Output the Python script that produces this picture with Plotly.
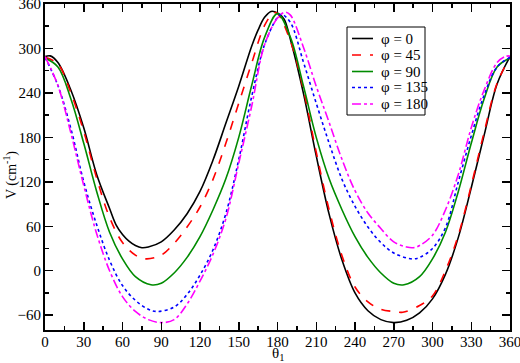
import plotly.graph_objects as go

# --- data ---
th_phi0 = [0, 4, 10, 20, 30, 40, 50, 55, 60, 65, 70, 75, 80, 90, 100, 110, 120, 130, 140, 150, 160, 165, 170, 175, 180, 185, 190, 200, 210, 220, 230, 240, 250, 260, 270, 280, 290, 300, 310, 320, 330, 340, 350, 360]
v_phi0 = [289, 290, 281, 244, 193, 130, 84, 62, 49, 40, 34, 31, 32, 39, 55, 77, 107, 149, 199, 249, 303, 325, 342, 350, 348, 340, 312, 240, 155, 76, 14, -30, -54, -66, -70, -67, -57, -38, -5, 45, 112, 183, 252, 289]

th_phi45 = [0, 10, 20, 30, 40, 50, 60, 70, 78, 90, 100, 110, 120, 130, 140, 150, 160, 170, 177, 180, 190, 200, 210, 220, 230, 240, 250, 260, 270, 277, 290, 300, 310, 320, 330, 340, 350, 360]
v_phi45 = [288, 279, 240, 188, 125, 72, 38, 21, 16, 21, 37, 59, 86, 123, 172, 226, 280, 331, 348, 347, 310, 245, 160, 82, 20, -22, -42, -52, -55, -56, -47, -34, 0, 48, 115, 187, 253, 288]

th_phi90 = [0, 10, 20, 30, 40, 50, 60, 70, 82, 90, 100, 110, 120, 130, 140, 150, 160, 170, 180, 190, 200, 210, 220, 230, 240, 250, 260, 270, 278, 290, 300, 310, 320, 330, 340, 350, 360]
v_phi90 = [287, 275, 232, 172, 107, 52, 16, -8, -19, -17, -3, 18, 46, 82, 124, 180, 250, 315, 347, 315, 250, 180, 124, 82, 46, 18, -3, -17, -19, -8, 16, 52, 107, 172, 232, 275, 287]

th_phi135 = [0, 10, 20, 30, 40, 50, 60, 70, 80, 87, 100, 110, 120, 130, 140, 150, 160, 170, 180, 183, 190, 200, 210, 220, 230, 240, 250, 260, 270, 284, 290, 300, 310, 320, 330, 340, 350, 360]
v_phi135 = [288, 250, 192, 120, 62, 14, -20, -40, -52, -55, -49, -32, -6, 28, 77, 150, 235, 305, 342, 346, 335, 282, 226, 172, 123, 87, 59, 38, 24, 16, 18, 30, 58, 120, 182, 237, 275, 288]

th_phi180 = [0, 10, 20, 30, 40, 50, 60, 70, 80, 90, 100, 110, 120, 130, 140, 150, 160, 170, 180, 186, 190, 200, 210, 220, 230, 240, 250, 260, 270, 280, 285, 290, 300, 310, 320, 330, 340, 350, 356, 360]
v_phi180 = [289, 250, 186, 115, 50, 0, -35, -55, -66, -70, -66, -45, -14, 22, 70, 145, 222, 305, 341, 349, 345, 302, 249, 200, 150, 108, 78, 57, 39, 32, 31, 34, 48, 82, 130, 193, 244, 281, 289, 290]

labels = ["\u03c6 = 0", "\u03c6 = 45", "\u03c6 = 90", "\u03c6 = 135", "\u03c6 = 180"]
x_ticks = list(range(0, 361, 30))
y_ticks = list(range(-60, 361, 60))
x_title = "\u03b8<sub>1</sub>"
y_title = "V (cm<sup>-1</sup>)"

colors = ["#000000", "#ff0000", "#008b00", "#0000ff", "#ff00ff"]
dashes = ["solid", "dash", "solid", "dot", "dashdot"]
thetas = [th_phi0, th_phi45, th_phi90, th_phi135, th_phi180]
values = [v_phi0, v_phi45, v_phi90, v_phi135, v_phi180]

# figure geometry (pixels)
W, H = 520, 363
ML, MR, MT, MB = 45, 10, 4, 33
PW, PH = W - ML - MR, H - MT - MB


def px_x(px):
    return (px - ML) / PW


def px_y(py):
    return (H - MB - py) / PH


fig = go.Figure()
for th, v, name, col, dash in zip(thetas, values, labels, colors, dashes):
    fig.add_trace(go.Scatter(
        x=th, y=v, name=name, mode="lines", showlegend=False, hoverinfo="skip",
        line=dict(color=col, width=1.6, dash=dash, shape="spline", smoothing=1.0),
    ))

font_family = "Liberation Serif, Times New Roman, serif"
axis_common = dict(
    showline=True, linecolor="black", linewidth=2, mirror="ticks",
    ticks="inside", ticklen=8, tickwidth=1.5, tickcolor="black",
    showgrid=False, zeroline=False, ticklabeloverflow="allow", automargin=False,
    showspikes=False,
    tickfont=dict(family=font_family, size=15, color="black"),
)

fig.update_xaxes(
    range=[0, 360], tickvals=x_ticks, ticklabelstandoff=-3,
    minor=dict(ticks="inside", ticklen=4, tickwidth=1.5, tickcolor="black", dtick=15, showgrid=False),
    **axis_common,
)
fig.update_yaxes(
    range=[-80, 360], tickvals=y_ticks, ticklabelstandoff=-1,
    minor=dict(ticks="inside", ticklen=4, tickwidth=1.5, tickcolor="black", dtick=30, tick0=0, showgrid=False),
    **axis_common,
)

fig.add_annotation(
    x=0.5, y=px_y(354), xref="paper", yref="paper", xanchor="center", yanchor="middle",
    text=x_title, showarrow=False, font=dict(family=font_family, size=15, color="black"),
)
fig.add_annotation(
    x=px_x(10), y=px_y(175), xref="paper", yref="paper", xanchor="center", yanchor="middle",
    text=y_title, textangle=-90, showarrow=False, font=dict(family=font_family, size=14, color="black"),
)

# legend box drawn by hand (to match the compact reference legend)
fig.add_shape(
    type="rect", xref="paper", yref="paper",
    x0=px_x(347), x1=px_x(425), y0=px_y(115), y1=px_y(27),
    line=dict(color="black", width=1), fillcolor="white", layer="above",
)
row_y = [38.5, 55, 71.5, 87.5, 104]
for i, (name, col, dash) in enumerate(zip(labels, colors, dashes)):
    fig.add_shape(
        type="line", xref="paper", yref="paper",
        x0=px_x(352), x1=px_x(373), y0=px_y(row_y[i]), y1=px_y(row_y[i]),
        line=dict(color=col, width=1.6, dash=dash), layer="above",
    )
    fig.add_annotation(
        x=px_x(379), y=px_y(row_y[i]), xref="paper", yref="paper",
        xanchor="left", yanchor="middle", text=name, showarrow=False,
        font=dict(family=font_family, size=15, color="black"),
    )

fig.update_layout(
    width=W, height=H,
    margin=dict(l=ML, r=MR, t=MT, b=MB),
    plot_bgcolor="white", paper_bgcolor="white",
    font=dict(family=font_family, color="black"),
    hovermode=False,
)

fig.write_html(
    "out.html",
    config={"displayModeBar": False, "staticPlot": True},
    post_script="document.body.style.margin='0';document.body.style.overflow='hidden';",
)
